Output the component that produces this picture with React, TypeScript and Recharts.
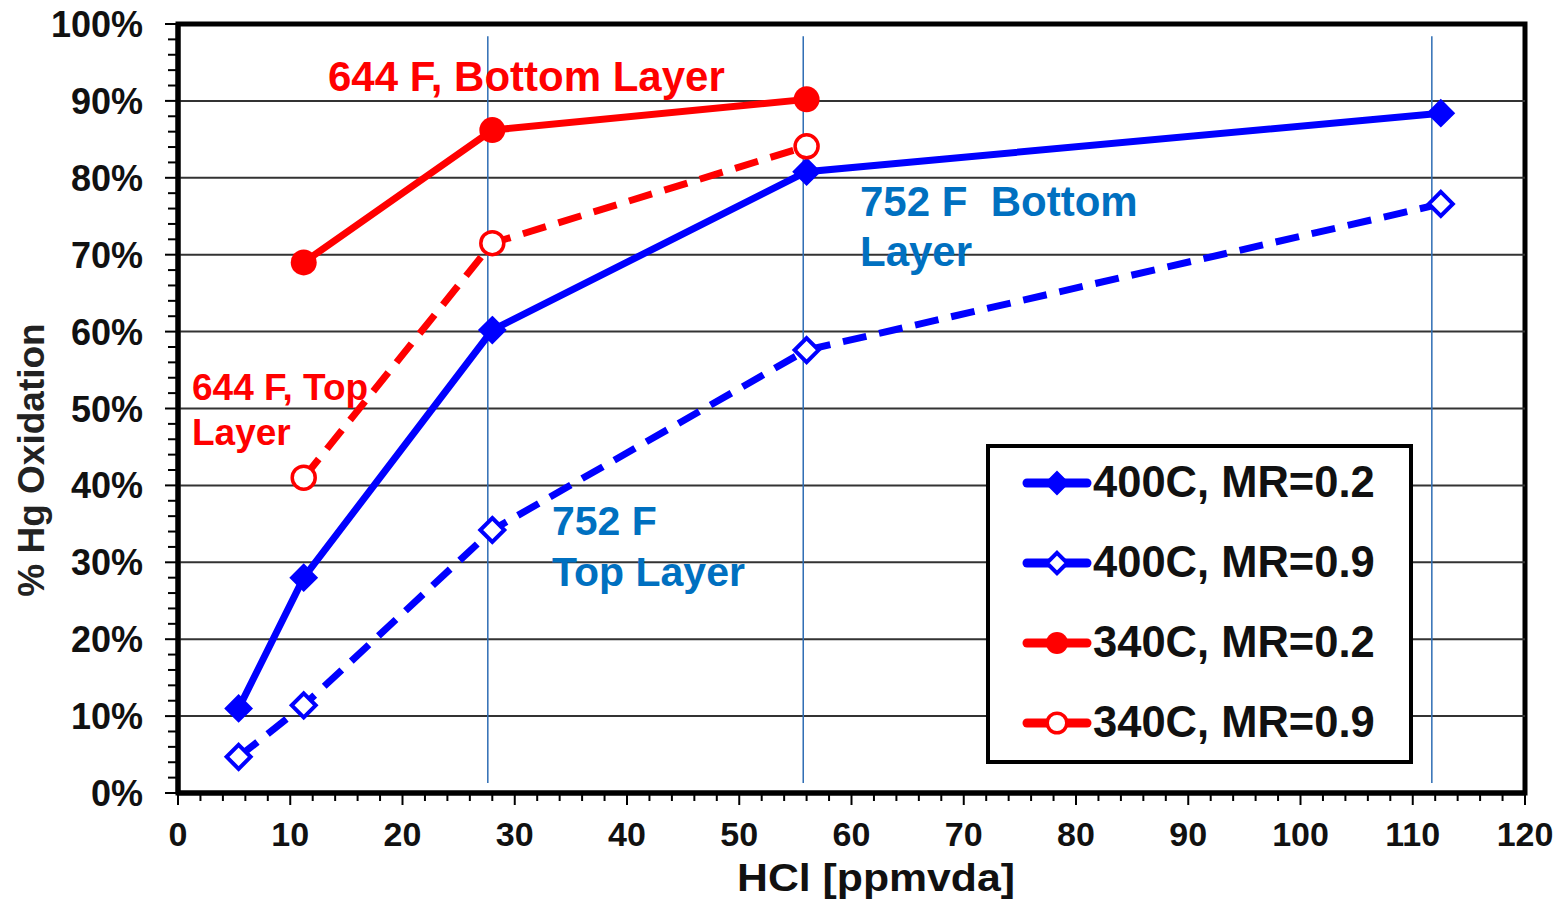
import { LineChart, Line, XAxis, YAxis, ReferenceLine, ReferenceArea, Legend } from "recharts"

const FONT = '"Liberation Sans", Arial, sans-serif'

// HCl [ppmvda] values where each series was measured
const x400 = [5.4, 11.2, 28, 56, 112.5]
const x340 = [11.2, 28, 56]

// % Hg oxidation
const y400mr02 = [11, 28, 60.2, 80.8, 88.4]
const y400mr09 = [4.7, 11.4, 34.2, 57.6, 76.6]
const y340mr02 = [69, 86.2, 90.2]
const y340mr09 = [41, 71.5, 84.1]

// thin blue guide lines
const guideX = [27.6, 55.7, 111.7]

const xMajor = [0, 10, 20, 30, 40, 50, 60, 70, 80, 90, 100, 110, 120]
const yMajor = [0, 10, 20, 30, 40, 50, 60, 70, 80, 90, 100]
const xTicks = xMajor.flatMap((v, i) => (i === 0 ? [v] : [v - 8, v - 6, v - 4, v - 2, v]))
const yTicks = yMajor.flatMap((v, i) => (i === 0 ? [v] : [v - 8, v - 6, v - 4, v - 2, v]))

const toPoints = (xs: number[], ys: number[]) => xs.map((x, i) => ({ x, y: ys[i] }))

const BLUE = "#0000ff"
const RED = "#ff0000"

type Kind = "diamond" | "diamondOpen" | "circle" | "circleOpen"

const series: { name: string; data: { x: number; y: number }[]; color: string; dashed: boolean; kind: Kind }[] = [
  { name: "400C, MR=0.2", data: toPoints(x400, y400mr02), color: BLUE, dashed: false, kind: "diamond" },
  { name: "400C, MR=0.9", data: toPoints(x400, y400mr09), color: BLUE, dashed: true, kind: "diamondOpen" },
  { name: "340C, MR=0.2", data: toPoints(x340, y340mr02), color: RED, dashed: false, kind: "circle" },
  { name: "340C, MR=0.9", data: toPoints(x340, y340mr09), color: RED, dashed: true, kind: "circleOpen" },
]

function Marker({ cx, cy, kind, color, s = 1 }: { cx: number; cy: number; kind: Kind; color: string; s?: number }) {
  if (kind === "diamond") {
    const h = 13 * s
    return <polygon points={`${cx},${cy - h} ${cx + h},${cy} ${cx},${cy + h} ${cx - h},${cy}`} fill={color} stroke={color} strokeWidth={2} />
  }
  if (kind === "diamondOpen") {
    const h = 12 * s
    return <polygon points={`${cx},${cy - h} ${cx + h},${cy} ${cx},${cy + h} ${cx - h},${cy}`} fill="#fff" stroke={color} strokeWidth={4} />
  }
  if (kind === "circle") return <circle cx={cx} cy={cy} r={13 * s} fill={color} />
  return <circle cx={cx} cy={cy} r={11.5 * s} fill="#fff" stroke={color} strokeWidth={3.5} />
}

function XTick(props: any) {
  const { x, y, payload } = props
  const v = payload.value
  const major = v % 10 === 0
  return (
    <g>
      <line x1={x} x2={x} y1={y} y2={y + (major ? 12 : 8)} stroke="#000" strokeWidth={2} />
      {major && (
        <text x={x} y={y + 53} textAnchor="middle" fontFamily={FONT} fontWeight="bold" fontSize={34} fill="#111">
          {v}
        </text>
      )}
    </g>
  )
}

function YTick(props: any) {
  const { x, y, payload } = props
  const v = payload.value
  const major = v % 10 === 0
  return (
    <g>
      <line x1={x - (major ? 13 : 10)} x2={x} y1={y} y2={y} stroke="#000" strokeWidth={2} />
      {major && (
        <text x={x - 35} y={y + 13} textAnchor="end" fontFamily={FONT} fontWeight="bold" fontSize={36} fill="#111">
          {v}%
        </text>
      )}
    </g>
  )
}

function LegendBox() {
  return (
    <div
      style={{
        boxSizing: "border-box",
        width: 427,
        height: 320,
        border: "4px solid #000",
        background: "#fff",
        paddingLeft: 32,
        overflow: "hidden",
      }}
    >
      <div style={{ marginTop: -5 }}>
        {series.map((s) => (
          <div key={s.name} style={{ height: 80, display: "flex", alignItems: "center" }}>
            <svg width={70} height={32}>
              <line x1={5} x2={65} y1={16} y2={16} stroke={s.color} strokeWidth={9} strokeLinecap="round" />
              <Marker cx={35} cy={16} kind={s.kind} color={s.color} s={0.85} />
            </svg>
            <span style={{ fontFamily: FONT, fontWeight: "bold", fontSize: 43.5, color: "#111", marginLeft: 1, lineHeight: 1 }}>
              {s.name}
            </span>
          </div>
        ))}
      </div>
    </div>
  )
}

export default function App() {
  return (
    <div style={{ position: "absolute", left: 0, top: 0, width: 1564, height: 899, overflow: "hidden", background: "#fff" }}>
      <LineChart width={1564} height={899} margin={{ top: 24, right: 39, left: 0, bottom: 0 }}>
        <XAxis
          dataKey="x"
          type="number"
          domain={[0, 120]}
          ticks={xTicks}
          interval={0}
          height={106}
          tick={<XTick />}
          tickLine={false}
          tickSize={0}
          tickMargin={0}
          axisLine={{ stroke: "#000", strokeWidth: 5 }}
          allowDuplicatedCategory={false}
        />
        <YAxis
          dataKey="y"
          type="number"
          domain={[0, 100]}
          ticks={yTicks}
          interval={0}
          width={178}
          tick={<YTick />}
          tickLine={false}
          tickSize={0}
          tickMargin={0}
          axisLine={{ stroke: "#000", strokeWidth: 5 }}
        />
        {yMajor.slice(1, -1).map((v) => (
          <ReferenceLine key={`g${v}`} y={v} stroke="#333" strokeWidth={2} />
        ))}
        {guideX.map((v) => (
          <ReferenceLine
            key={`v${v}`}
            segment={[
              { x: v, y: 1.3 },
              { x: v, y: 98.4 },
            ]}
            stroke="#2e6db4"
            strokeWidth={1.5}
          />
        ))}
        <ReferenceArea x1={0} x2={120} y1={0} y2={100} fill="none" stroke="#000" strokeWidth={5} />
        {series.map((s) => (
          <Line
            key={s.name}
            data={s.data}
            dataKey="y"
            name={s.name}
            type="linear"
            stroke={s.color}
            strokeWidth={7}
            strokeDasharray={s.dashed ? "24 13" : undefined}
            dot={(p: any) => <Marker key={`${s.name}-${p.index}`} cx={p.cx} cy={p.cy} kind={s.kind} color={s.color} />}
            activeDot={false}
            isAnimationActive={false}
          />
        ))}
        <Legend
          layout="vertical"
          align="center"
          verticalAlign="middle"
          content={() => <LegendBox />}
          wrapperStyle={{ position: "absolute", left: 986, top: 444, width: 427, height: 320 }}
        />
      </LineChart>
      <svg width={1564} height={899} style={{ position: "absolute", left: 0, top: 0, pointerEvents: "none" }}>
        <g fontFamily={FONT} fontWeight="bold">
          <text x={328} y={91} fontSize={42} fill="#ff0000">644 F, Bottom Layer</text>
          <text x={860} y={216} fontSize={42} fill="#0070c0" style={{ whiteSpace: "pre" }}>{"752 F  Bottom"}</text>
          <text x={860} y={266} fontSize={42} fill="#0070c0">Layer</text>
          <text x={552} y={535} fontSize={41} fill="#0070c0">752 F</text>
          <text x={552} y={586} fontSize={41} fill="#0070c0">Top Layer</text>
          <text x={192} y={400} fontSize={37} fill="#ff0000">644 F, Top</text>
          <text x={192} y={445} fontSize={37} fill="#ff0000">Layer</text>
          <text x={44} y={460} fontSize={37} fill="#222" textAnchor="middle" transform="rotate(-90 44 460)">% Hg Oxidation</text>
          <text x={737} y={891} fontSize={38} fill="#111" textLength={278} lengthAdjust="spacingAndGlyphs">HCl [ppmvda]</text>
        </g>
      </svg>
    </div>
  )
}
